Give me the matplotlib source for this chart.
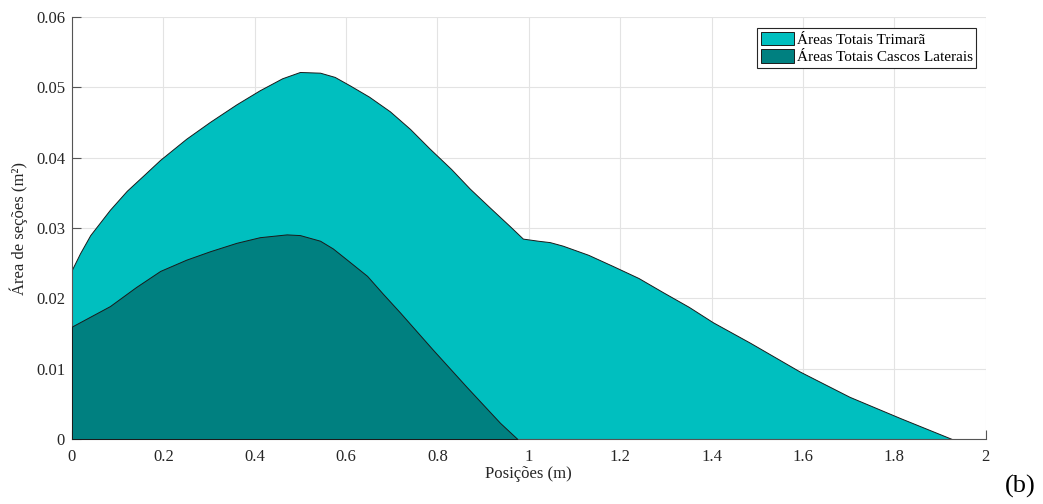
import matplotlib
matplotlib.use('Agg')
from matplotlib import pyplot as plt
from matplotlib.patches import Patch

# areas totais do trimarã (m²) ao longo do comprimento (m)
pos_trimara = [0.0, 0.0175, 0.04, 0.083, 0.12, 0.16, 0.193, 0.25, 0.302, 0.36, 0.411, 0.46,
               0.499, 0.543, 0.575, 0.608, 0.65, 0.696, 0.74, 0.783, 0.83, 0.871,
               0.915, 0.958, 0.987, 1.02, 1.046, 1.074, 1.13, 1.184, 1.24, 1.293,
               1.35, 1.403, 1.484, 1.593, 1.702, 1.812, 1.926]
area_trimara = [0.0241, 0.0264, 0.0290, 0.0326, 0.0353, 0.0377, 0.0397, 0.0427, 0.0451, 0.0476,
                0.0496, 0.0513, 0.0522, 0.0521, 0.0515, 0.0503, 0.0487, 0.0466, 0.0441,
                0.0413, 0.0384, 0.0356, 0.0329, 0.0303, 0.0285, 0.0282, 0.0280, 0.0275,
                0.0262, 0.0246, 0.0229, 0.0209, 0.0188, 0.0166, 0.0137, 0.0096, 0.0060,
                0.0030, 0.0]

# areas totais dos cascos laterais
pos_laterais = [0.0, 0.04, 0.083, 0.14, 0.193, 0.25, 0.302, 0.36, 0.411, 0.47, 0.499,
                0.543, 0.571, 0.6, 0.646, 0.68, 0.718, 0.79, 0.864, 0.937, 0.975]
area_laterais = [0.0160, 0.0174, 0.0189, 0.0216, 0.0239, 0.0255, 0.0267, 0.0279, 0.0287,
                 0.0291, 0.0290, 0.0282, 0.0271, 0.0256, 0.0232, 0.0207, 0.0180, 0.0127,
                 0.0074, 0.0023, 0.0]

cor_trimara = '#00bfbf'
cor_laterais = '#008080'

plt.rcParams['font.family'] = ['Liberation Serif', 'DejaVu Serif']

fig = plt.figure(figsize=(10.43, 5.04), dpi=100)
ax = fig.add_axes([0.069, 0.129, 0.876, 0.837])

ax.fill_between(pos_trimara, area_trimara, 0, facecolor=cor_trimara, edgecolor='#1a1a1a',
                linewidth=0.7, zorder=2)
ax.fill_between(pos_laterais, area_laterais, 0, facecolor=cor_laterais, edgecolor='#1a1a1a',
                linewidth=0.7, zorder=3)

ax.set_xlim(0, 2)
ax.set_ylim(0, 0.06)
ax.set_xticks([0, 0.2, 0.4, 0.6, 0.8, 1, 1.2, 1.4, 1.6, 1.8, 2])
ax.set_xticklabels(['0', '0.2', '0.4', '0.6', '0.8', '1', '1.2', '1.4', '1.6', '1.8', '2'])
ax.set_yticks([0, 0.01, 0.02, 0.03, 0.04, 0.05, 0.06])
ax.set_yticklabels(['0', '0.01', '0.02', '0.03', '0.04', '0.05', '0.06'])

ax.grid(True, color='#e3e3e3', linewidth=0.8, zorder=0)
ax.set_axisbelow(True)
for s in ['top', 'right']:
    ax.spines[s].set_visible(False)
for s in ['left', 'bottom']:
    ax.spines[s].set_color('#555555')
    ax.spines[s].set_linewidth(0.8)
ax.tick_params(direction='in', length=6.5, width=0.8, color='#555555',
               labelsize=12, labelcolor='#262626')
ax.tick_params(axis='x', pad=7)
ax.tick_params(axis='y', pad=5)

ax.set_xlabel('Posições (m)', fontsize=12, color='#262626', labelpad=1)
ax.set_ylabel('Área de seções (m²)', fontsize=12, color='#262626', labelpad=6)

handles = [Patch(facecolor=cor_trimara, edgecolor='#1a1a1a', linewidth=0.7),
           Patch(facecolor=cor_laterais, edgecolor='#1a1a1a', linewidth=0.7)]
leg = ax.legend(handles, ['Áreas Totais Trimarã', 'Áreas Totais Cascos Laterais'],
                loc='upper right', bbox_to_anchor=(0.99, 0.975), fontsize=11,
                fancybox=False, framealpha=1, edgecolor='#262626', handlelength=2.2,
                handleheight=1.0, handletextpad=0.15, borderpad=0.25, labelspacing=0.15,
                borderaxespad=0)
leg.get_frame().set_linewidth(0.8)

fig.text(0.978, 0.035, '(b)', fontsize=19, ha='center', va='center', color='black')

plt.savefig('out.png', dpi=100)
